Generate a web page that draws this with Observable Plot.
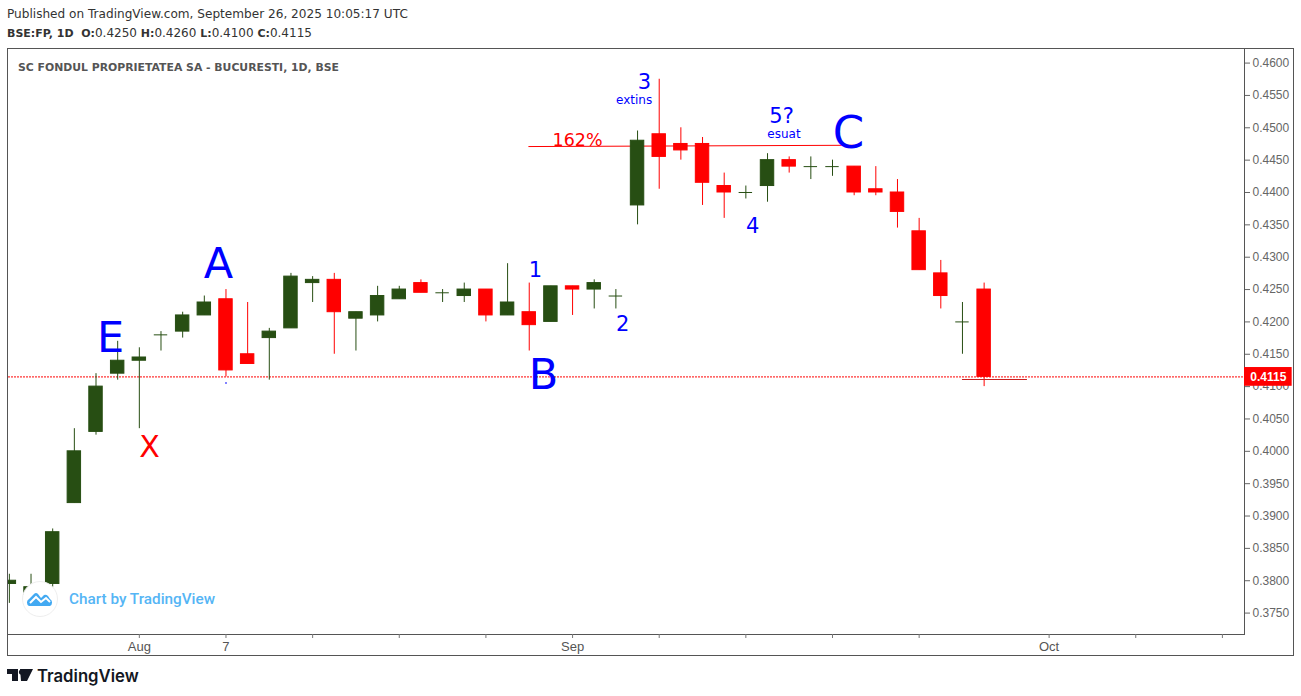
<!DOCTYPE html>
<html><head><meta charset="utf-8">
<script src="https://cdn.jsdelivr.net/npm/d3@7"></script>
<script src="https://cdn.jsdelivr.net/npm/@observablehq/plot@0.6"></script>
<style>
html,body{margin:0;padding:0;background:#fff;width:1301px;height:696px;overflow:hidden}
.abs{position:absolute;white-space:nowrap}
#hdr1{left:7px;top:6px;font:12.1px/16px "DejaVu Sans";color:#333;}
#hdr2{left:7px;top:25px;font:12px/16px "DejaVu Sans";color:#333;}
#hdr2 b{font-weight:700;font-size:11px}
#frame{left:7px;top:48px;width:1287px;height:608px;box-sizing:border-box;border:1px solid #555}
#chart{left:8px;top:49px}
#legend{left:18px;top:61px;font:bold 10.85px/14px "DejaVu Sans";color:#555}
#badge{left:22px;top:581px;width:36px;height:36px;box-sizing:border-box;border:1px solid #eee;border-radius:50%;background:#fff}
#wm{left:69px;top:590px;font:500 15.3px/18px Roboto;color:#55b5f5}
#brand{left:37px;top:664px;font:600 16.7px/24px Inter;color:#131722}
</style></head><body>
<div class="abs" id="hdr1">Published on TradingView.com, September 26, 2025 10:05:17 UTC</div>
<div class="abs" id="hdr2"><b>BSE:FP, 1D</b>&nbsp; <b>O:</b>0.4250 <b>H:</b>0.4260 <b>L:</b>0.4100 <b>C:</b>0.4115</div>
<div class="abs" id="frame"></div>
<div class="abs" id="chart"></div>
<div class="abs" id="legend">SC FONDUL PROPRIETATEA SA - BUCURESTI, 1D, BSE</div>
<div class="abs" id="badge"><svg width="34" height="34" viewBox="0 0 34 34"><path d="M6 24 a4 4 0 0 1 0-7 l5-5 q2-2 4 0 l3 4 3-3 q2-1 4 1 l2 3 a4 4 0 0 1 0 7 z" fill="#42a9f2"/><path d="M7 21 l6-6 5 5 5-4 4 4" fill="none" stroke="#fff" stroke-width="2"/></svg></div>
<div class="abs" id="wm">Chart by TradingView</div>
<svg class="abs" style="left:7px;top:669px" width="26" height="12" viewBox="0 0 26 12"><path d="M0 0h11v12H5V5H0z M13 0h13l-6 12h-6z" fill="#131722"/><circle cx="14.5" cy="3" r="2.6" fill="#131722"/></svg>
<div class="abs" id="brand">TradingView</div>
<script>
const opens  = [0.3795,0.3775,0.3795,0.3920,0.4030,0.4120,0.4140,0.4180,0.4185,0.4210,0.4235,0.4150,0.4175,0.4190,0.4260,0.4265,0.4205,0.4210,0.4235,0.4260,0.4245,0.4240,0.4250,0.4210,0.4215,0.4200,0.4255,0.4250,0.4240,0.4380,0.4490,0.4475,0.4475,0.4410,0.4400,0.4410,0.4450,0.4440,0.4440,0.4440,0.4405,0.4400,0.4340,0.4275,0.4200,0.4250];
const highs  = [0.3810,0.3810,0.3880,0.4035,0.4120,0.4170,0.4160,0.4185,0.4215,0.4240,0.4250,0.4230,0.4190,0.4275,0.4270,0.4275,0.4215,0.4255,0.4255,0.4265,0.4250,0.4260,0.4250,0.4290,0.4260,0.4255,0.4255,0.4265,0.4250,0.4495,0.4575,0.4500,0.4485,0.4430,0.4410,0.4460,0.4455,0.4455,0.4450,0.4440,0.4440,0.4420,0.4360,0.4295,0.4230,0.4260];
const lows   = [0.3765,0.3770,0.3790,0.3920,0.4025,0.4110,0.4035,0.4155,0.4175,0.4210,0.4115,0.4135,0.4110,0.4190,0.4230,0.4150,0.4155,0.4200,0.4235,0.4245,0.4230,0.4230,0.4200,0.4210,0.4155,0.4200,0.4210,0.4220,0.4220,0.4350,0.4405,0.4450,0.4380,0.4360,0.4390,0.4385,0.4430,0.4420,0.4425,0.4395,0.4395,0.4345,0.4280,0.4220,0.4150,0.4100];
const closes = [0.3800,0.3790,0.3875,0.4000,0.4100,0.4140,0.4145,0.4180,0.4210,0.4230,0.4125,0.4135,0.4185,0.4270,0.4265,0.4215,0.4215,0.4240,0.4250,0.4245,0.4245,0.4250,0.4210,0.4230,0.4195,0.4255,0.4250,0.4260,0.4240,0.4480,0.4455,0.4465,0.4415,0.4400,0.4400,0.4450,0.4440,0.4440,0.4440,0.4400,0.4400,0.4370,0.4280,0.4240,0.4200,0.4115];
const lastPrice = 0.4115;
const priceTicks = [0.375,0.38,0.385,0.39,0.395,0.40,0.405,0.41,0.415,0.42,0.425,0.43,0.435,0.44,0.445,0.45,0.455,0.46];
const timeTicks  = [6,10,14,18,22,26,30,34,38,42,48,52,56];
const timeLabels = ["Aug","7","","","","Sep","","","","","Oct","",""];
const bigText  = ["A","E","B"], bigBar = [9.65,4.67,24.66], bigPrice = [0.42893,0.4175,0.41178];
const midText  = ["1","2","3","4","5?"], midBar = [24.29,28.31,29.32,34.31,35.65], midPrice = [0.42801,0.41966,0.45706,0.43481,0.45181];
const noteText = ["extins","esuat"], noteBar = [28.84,35.76], notePrice = [0.45428,0.44903];
const fibBars = [23.98,38.97], fibPrices = [0.4471,0.4473];
const supportBars = [44,47], supportPrice = 0.4111;

const candles = opens.map((o,i)=>({i,open:o,high:highs[i],low:lows[i],close:closes[i],
  color: (o>closes[i]) ? "#ff0000" : "#274e13"}));
const body = candles.filter(d=>d.open!==d.close);
const doji = candles.filter(d=>d.open===d.close);
const hw = 0.31;
const toRows = (t,b,p)=>t.map((s,k)=>({s,b:b[k],p:p[k]}));
const font = "DejaVu Sans";
const plot = Plot.plot({
  width:1285,height:606,marginTop:0,marginBottom:21,marginLeft:0,marginRight:49,
  style:{background:"transparent",fontFamily:"Liberation Sans",fontSize:"12px",overflow:"visible"},
  x:{type:"linear",domain:[-0.04,57.02],range:[0,1236]},
  y:{domain:[0.37169,0.4621],range:[585,0]},
  marks:[
    Plot.frame({anchor:"bottom",stroke:"#555"}),
    Plot.frame({anchor:"right",stroke:"#555"}),
    Plot.axisY(priceTicks,{anchor:"right",tickFormat:d3.format(".4f"),tickSize:5,tickPadding:3,color:"#666",label:null,stroke:"#666"}),
    Plot.axisX(timeTicks,{anchor:"bottom",tickFormat:d=>timeLabels[timeTicks.indexOf(d)],tickSize:4,tickPadding:3,fontSize:13,color:"#555",label:null,stroke:"#777"}),
    Plot.ruleY([lastPrice],{stroke:"#ff0000",strokeWidth:1,strokeDasharray:"2,1"}),
    Plot.line(fibBars.map((b,k)=>({b,p:fibPrices[k]})),{x:"b",y:"p",stroke:"#ff0000",strokeWidth:1}),
    Plot.ruleX(candles,{x:"i",y1:"low",y2:"high",stroke:"color",clip:true}),
    Plot.rect(body,{x1:d=>d.i-hw,x2:d=>d.i+hw,y1:"open",y2:"close",fill:"color",stroke:"color",clip:true}),
    Plot.ruleY(doji,{y:"open",x1:d=>d.i-hw,x2:d=>d.i+hw,stroke:"color",clip:true}),
    Plot.ruleY([supportPrice],{x1:supportBars[0],x2:supportBars[1],stroke:"#c81e1e",strokeWidth:1}),
    Plot.dot([{b:10,p:0.41054}],{x:"b",y:"p",r:1,fill:"#5a5aff",stroke:null}),
    Plot.text(toRows(bigText,bigBar,bigPrice),{x:"b",y:"p",text:"s",fill:"#0000ff",fontSize:43,fontFamily:font}),
    Plot.text([{b:38.74,p:0.44918,s:"C"}],{x:"b",y:"p",text:"s",fill:"#0000ff",fontSize:45,fontFamily:font}),
    Plot.text([{b:6.47,p:0.40065,s:"X"}],{x:"b",y:"p",text:"s",fill:"#ff0000",fontSize:30,fontFamily:font}),
    Plot.text(toRows(midText,midBar,midPrice),{x:"b",y:"p",text:"s",fill:"#0000ff",fontSize:21,fontFamily:font}),
    Plot.text(toRows(noteText,noteBar,notePrice),{x:"b",y:"p",text:"s",fill:"#0000ff",fontSize:12,fontFamily:font}),
    Plot.text([{b:26.23,p:0.4481,s:"162%"}],{x:"b",y:"p",text:"s",fill:"#ff0000",fontSize:17.5,fontFamily:font}),
    Plot.rect([lastPrice],{x1:57.02,x2:59.22,y1:d=>d-0.00145,y2:d=>d+0.00145,fill:"#ff0000"}),
    Plot.text([lastPrice],{x:58.12,y:d=>d,text:d=>d.toFixed(4),fill:"#fff",fontWeight:"bold",fontSize:12,fontFamily:"Liberation Sans"})
  ]
});
document.getElementById("chart").appendChild(plot);
</script>
</body></html>
